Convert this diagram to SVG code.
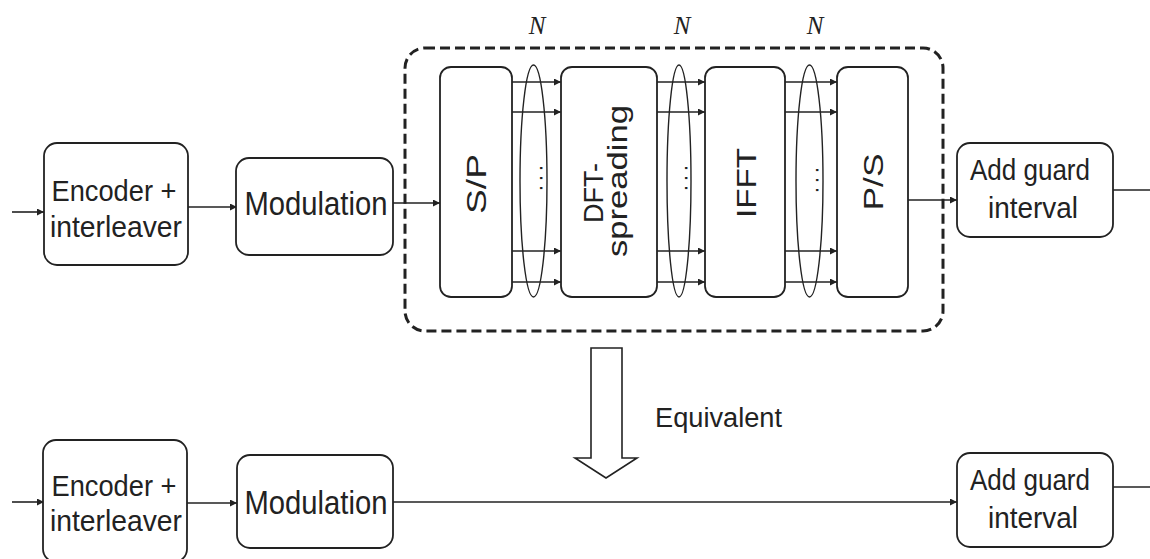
<svg xmlns="http://www.w3.org/2000/svg" width="1150" height="559" viewBox="0 0 1150 559">
<defs>
<marker id="ah" viewBox="0 0 10 10" refX="10" refY="5" markerWidth="9" markerHeight="7" markerUnits="userSpaceOnUse" orient="auto"><path d="M0,0 L10,5 L0,10 Z" fill="#222"/></marker>
<style>
.box{fill:#fff;stroke:#222;stroke-width:1.8}
.ln{fill:none;stroke:#222;stroke-width:1.6}
.arr{fill:none;stroke:#222;stroke-width:1.6;marker-end:url(#ah)}
.t{font-family:"Liberation Sans",Arial,sans-serif;font-size:34px;fill:#222;text-anchor:middle}
.t2{font-family:"Liberation Sans",Arial,sans-serif;font-size:30px;fill:#222;text-anchor:middle}
.r{font-family:"Liberation Sans",Arial,sans-serif;font-size:28px;fill:#222;text-anchor:middle}
.d{font-family:"Liberation Sans",Arial,sans-serif;font-size:22px;fill:#222;text-anchor:middle}
.n{font-family:"Liberation Serif","Times New Roman",serif;font-style:italic;font-size:25px;fill:#222;text-anchor:middle}
.ell{fill:none;stroke:#222;stroke-width:1.4}
</style>
</defs>
<rect width="1150" height="559" fill="#fff"/>

<g id="dft-group">
<rect x="405" y="48" width="538" height="283" rx="20" fill="none" stroke="#222" stroke-width="3" stroke-dasharray="10 5"/>
</g>

<g id="connectors">
<line class="arr" x1="12" y1="212" x2="44" y2="212"/>
<line class="arr" x1="188" y1="207" x2="237" y2="207"/>
<line class="arr" x1="393" y1="203" x2="440" y2="203"/>
<line class="arr" x1="512" y1="82" x2="561" y2="82"/>
<line class="arr" x1="512" y1="112" x2="561" y2="112"/>
<line class="arr" x1="512" y1="251" x2="561" y2="251"/>
<line class="arr" x1="512" y1="282" x2="561" y2="282"/>
<line class="arr" x1="657" y1="82" x2="705" y2="82"/>
<line class="arr" x1="657" y1="112" x2="705" y2="112"/>
<line class="arr" x1="657" y1="251" x2="705" y2="251"/>
<line class="arr" x1="657" y1="282" x2="705" y2="282"/>
<line class="arr" x1="785" y1="82" x2="837" y2="82"/>
<line class="arr" x1="785" y1="112" x2="837" y2="112"/>
<line class="arr" x1="785" y1="251" x2="837" y2="251"/>
<line class="arr" x1="785" y1="282" x2="837" y2="282"/>
<line class="arr" x1="908" y1="200" x2="957" y2="200"/>
<line class="ln" x1="1113" y1="190" x2="1150" y2="190"/>
<line class="arr" x1="12" y1="502" x2="44" y2="502"/>
<line class="arr" x1="187" y1="503" x2="237" y2="503"/>
<line class="arr" x1="393" y1="502" x2="957" y2="502"/>
<line class="ln" x1="1113" y1="487" x2="1150" y2="487"/>
</g>

<g id="enc1"><rect class="box" x="44" y="143" width="144" height="122" rx="13"/>
<text class="t2" x="114" y="201" textLength="125" lengthAdjust="spacingAndGlyphs">Encoder +</text>
<text class="t2" x="116" y="237" textLength="132" lengthAdjust="spacingAndGlyphs">interleaver</text></g>

<g id="mod1"><rect class="box" x="236" y="158" width="157" height="97" rx="13"/>
<text class="t" x="316" y="215" textLength="143" lengthAdjust="spacingAndGlyphs">Modulation</text></g>

<g id="sp"><rect class="box" x="440" y="67" width="72" height="230" rx="11"/>
<text class="r" transform="translate(486,184) rotate(-90)" textLength="60" lengthAdjust="spacingAndGlyphs">S/P</text></g>

<g id="dft"><rect class="box" x="561" y="67" width="96" height="230" rx="11"/>
<text class="r" transform="translate(603,193) rotate(-90)" textLength="60" lengthAdjust="spacingAndGlyphs">DFT-</text>
<text class="r" transform="translate(627,181) rotate(-90)" textLength="152" lengthAdjust="spacingAndGlyphs">spreading</text></g>

<g id="ifft"><rect class="box" x="705" y="67" width="80" height="230" rx="11"/>
<text class="r" transform="translate(756,183) rotate(-90)" textLength="70" lengthAdjust="spacingAndGlyphs">IFFT</text></g>

<g id="ps"><rect class="box" x="837" y="67" width="71" height="230" rx="11"/>
<text class="r" transform="translate(883,182) rotate(-90)" textLength="57" lengthAdjust="spacingAndGlyphs">P/S</text></g>

<g id="bundle1"><ellipse class="ell" cx="533.5" cy="181" rx="13.5" ry="116"/>
<text class="d" transform="translate(540,178) rotate(90)" textLength="26" lengthAdjust="spacing">...</text>
<text class="n" x="537" y="34">N</text></g>
<g id="bundle2"><ellipse class="ell" cx="679" cy="181" rx="12" ry="116"/>
<text class="d" transform="translate(685,178) rotate(90)" textLength="26" lengthAdjust="spacing">...</text>
<text class="n" x="682" y="34">N</text></g>
<g id="bundle3"><ellipse class="ell" cx="809.5" cy="181" rx="13.5" ry="116"/>
<text class="d" transform="translate(816,180) rotate(90)" textLength="26" lengthAdjust="spacing">...</text>
<text class="n" x="815" y="34">N</text></g>

<g id="agi1"><rect class="box" x="957" y="143" width="156" height="94" rx="13"/>
<text class="t2" x="1030" y="180" textLength="120" lengthAdjust="spacingAndGlyphs">Add guard</text>
<text class="t2" x="1033" y="218" textLength="90" lengthAdjust="spacingAndGlyphs">interval</text></g>

<g id="equiv">
<polygon points="591,348 622,348 622,458 637,458 606,478 575,458 591,458" fill="#fff" stroke="#222" stroke-width="1.6"/>
<text x="655" y="427" font-family="Liberation Sans, Arial, sans-serif" font-size="27" fill="#222" textLength="127" lengthAdjust="spacingAndGlyphs">Equivalent</text>
</g>

<g id="enc2"><rect class="box" x="43" y="440" width="144" height="122" rx="13"/>
<text class="t2" x="114" y="496" textLength="125" lengthAdjust="spacingAndGlyphs">Encoder +</text>
<text class="t2" x="116" y="531" textLength="132" lengthAdjust="spacingAndGlyphs">interleaver</text></g>

<g id="mod2"><rect class="box" x="237" y="455" width="156" height="93" rx="13"/>
<text class="t" x="316" y="514" textLength="143" lengthAdjust="spacingAndGlyphs">Modulation</text></g>

<g id="agi2"><rect class="box" x="957" y="453" width="156" height="94" rx="13"/>
<text class="t2" x="1030" y="490" textLength="120" lengthAdjust="spacingAndGlyphs">Add guard</text>
<text class="t2" x="1033" y="528" textLength="90" lengthAdjust="spacingAndGlyphs">interval</text></g>
</svg>
